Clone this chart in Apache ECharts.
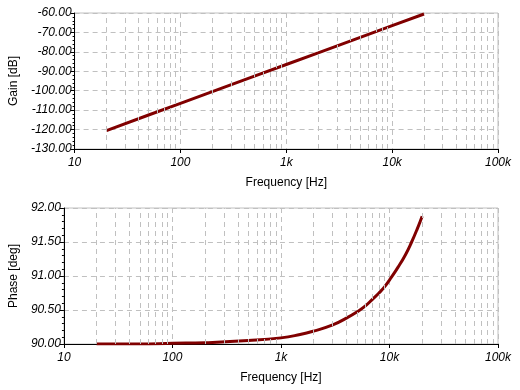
<!DOCTYPE html>
<html><head><meta charset="utf-8">
<script src="https://cdn.jsdelivr.net/npm/echarts@6/dist/echarts.min.js"></script>
<style>html,body{margin:0;padding:0;background:#fff}#c{width:520px;height:390px}</style>
</head><body><div id="c"></div>
<script>
const gainFreq = [20, 50, 100, 200, 500, 1000, 2000, 5000, 10000, 20000];
const gainDb = [-120.5, -112.5, -106.5, -100.5, -92.5, -86.5, -80.5, -72.5, -66.5, -60.5];
const phaseFreq = [20, 50, 100, 200, 500, 1000, 1500, 2000, 3000, 4000, 5000, 6000, 7000, 8000, 9000, 10000, 12000, 14000, 16000, 18000, 20000];
const phaseDeg = [90.00, 90.00, 90.01, 90.02, 90.05, 90.09, 90.14, 90.19, 90.28, 90.38, 90.47, 90.56, 90.66, 90.75, 90.84, 90.94, 91.13, 91.31, 91.50, 91.69, 91.88];
const minorFreqs = [20,30,40,50,60,70,80,90,200,300,400,500,600,700,800,900,2000,3000,4000,5000,6000,7000,8000,9000,20000,30000,40000,50000,60000,70000,80000,90000];
const xTickLabels = {10:'10',100:'100',1000:'1k',10000:'10k',100000:'100k'};

const FONT = 'Liberation Sans, Arial, sans-serif';
const gridCol = '#c0c0c0';
const lineCol = '#800000';

function xAxis(gi){
  return {
    type:'log', logBase:10, min:10, max:100000, gridIndex:gi,
    name:'Frequency [Hz]', nameLocation:'middle', nameGap:28,
    nameTextStyle:{color:'#000', fontSize:12, fontFamily:FONT},
    axisLine:{show:true, lineStyle:{color:'#000', width:1}},
    axisTick:{show:true, length:4, lineStyle:{color:'#000'}},
    minorTick:{show:false},
    axisLabel:{color:'#000', fontSize:12, fontStyle:'italic', fontFamily:FONT, margin:8,
      formatter:v=>xTickLabels[Math.round(v)] || ''},
    splitLine:{show:true, lineStyle:{color:gridCol, type:[5,4], width:1}}
  };
}
function yAxis(gi, min, max, interval, name, gap){
  return {
    type:'value', min, max, interval, gridIndex:gi,
    name, nameLocation:'middle', nameGap:gap, nameRotate:90,
    nameTextStyle:{color:'#000', fontSize:12, fontFamily:FONT},
    axisLine:{show:true, lineStyle:{color:'#000', width:1}},
    axisTick:{show:true, length:4, lineStyle:{color:'#000'}},
    minorTick:{show:true, splitNumber:5, length:2, lineStyle:{color:'#000'}},
    axisLabel:{color:'#000', fontSize:12, fontStyle:'italic', fontFamily:FONT, margin:3,
      formatter:v=>v.toFixed(2)},
    splitLine:{show:true, lineStyle:{color:gridCol, type:[5,4], width:1}}
  };
}
function minorSeries(gi){
  return {
    type:'line', xAxisIndex:gi, yAxisIndex:gi, data:[], z:1, silent:true,
    markLine:{silent:true, symbol:['none','none'], animation:false,
      label:{show:false},
      lineStyle:{color:gridCol, type:[5,4], width:1},
      data:minorFreqs.map(f=>({xAxis:f}))}
  };
}

const chart = echarts.init(document.getElementById('c'), null, {renderer:'canvas'});
chart.setOption({
  animation:false,
  backgroundColor:'#fff',
  grid:[
    {left:68, top:13, width:430, height:136, show:true, borderColor:gridCol, borderWidth:1, backgroundColor:'transparent'},
    {left:57, top:208, width:441, height:136, show:true, borderColor:gridCol, borderWidth:1, backgroundColor:'transparent'}
  ],
  xAxis:[xAxis(0), xAxis(1)],
  yAxis:[yAxis(0, -130, -60, 10, 'Gain [dB]', 52), yAxis(1, 90, 92, 0.5, 'Phase [deg]', 42)],
  series:[
    minorSeries(0), minorSeries(1),
    {type:'line', xAxisIndex:0, yAxisIndex:0, z:3, showSymbol:false, symbol:'none',
      lineStyle:{color:lineCol, width:3}, data:gainFreq.map((f,i)=>[f,gainDb[i]])},
    {type:'line', xAxisIndex:1, yAxisIndex:1, z:3, showSymbol:false, symbol:'none', smooth:true,
      lineStyle:{color:lineCol, width:3}, data:phaseFreq.map((f,i)=>[f,phaseDeg[i]])}
  ]
});
</script></body></html>
